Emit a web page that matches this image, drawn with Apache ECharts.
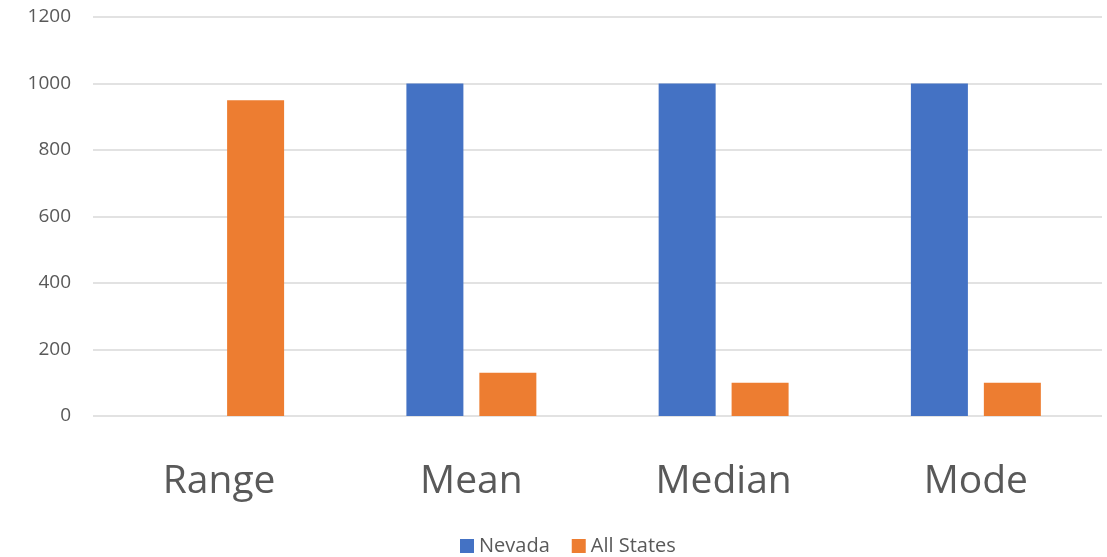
<!DOCTYPE html>
<html><head><meta charset="utf-8">
<script src="https://cdn.jsdelivr.net/npm/echarts@6/dist/echarts.min.js"></script>
<style>html,body{margin:0;padding:0;background:#fff}#c{width:1107px;height:557px}</style>
</head><body><div id="c"></div>
<script>
const categories = ['Range', 'Mean', 'Median', 'Mode'];
const nevada = [0, 1000, 1000, 1000];
const allStates = [950, 130, 100, 100];
const yTicks = [0, 200, 400, 600, 800, 1000, 1200];

const chart = echarts.init(document.getElementById('c'));
const font = '"Open Sans", sans-serif';
chart.setOption({
  animation: false,
  textStyle: { fontFamily: font },
  grid: { left: 93, right: 5, top: 17, bottom: 141, containLabel: false },
  legend: {
    top: 536, left: 460, itemWidth: 14, itemHeight: 14, itemGap: 22, padding: 0,
    icon: 'rect',
    textStyle: { fontSize: 20, color: '#595959', fontFamily: font },
    data: ['Nevada', 'All States']
  },
  xAxis: {
    type: 'category', data: categories,
    axisLine: { show: false }, axisTick: { show: false },
    axisLabel: { fontSize: 39, color: '#595959', margin: 46, fontFamily: font }
  },
  yAxis: {
    type: 'value', min: yTicks[0], max: yTicks[yTicks.length - 1], interval: 200,
    axisLine: { show: false }, axisTick: { show: false },
    axisLabel: { fontSize: 19, color: '#595959', margin: 22, fontFamily: font, formatter: v => String(v) },
    splitLine: { lineStyle: { color: '#d9d9d9', width: 1.5 } }
  },
  series: [
    { name: 'Nevada', type: 'bar', data: nevada, barWidth: 57, barGap: '28%', itemStyle: { color: '#4472c4' } },
    { name: 'All States', type: 'bar', data: allStates, barWidth: 57, itemStyle: { color: '#ed7d31' } }
  ]
});
</script></body></html>
